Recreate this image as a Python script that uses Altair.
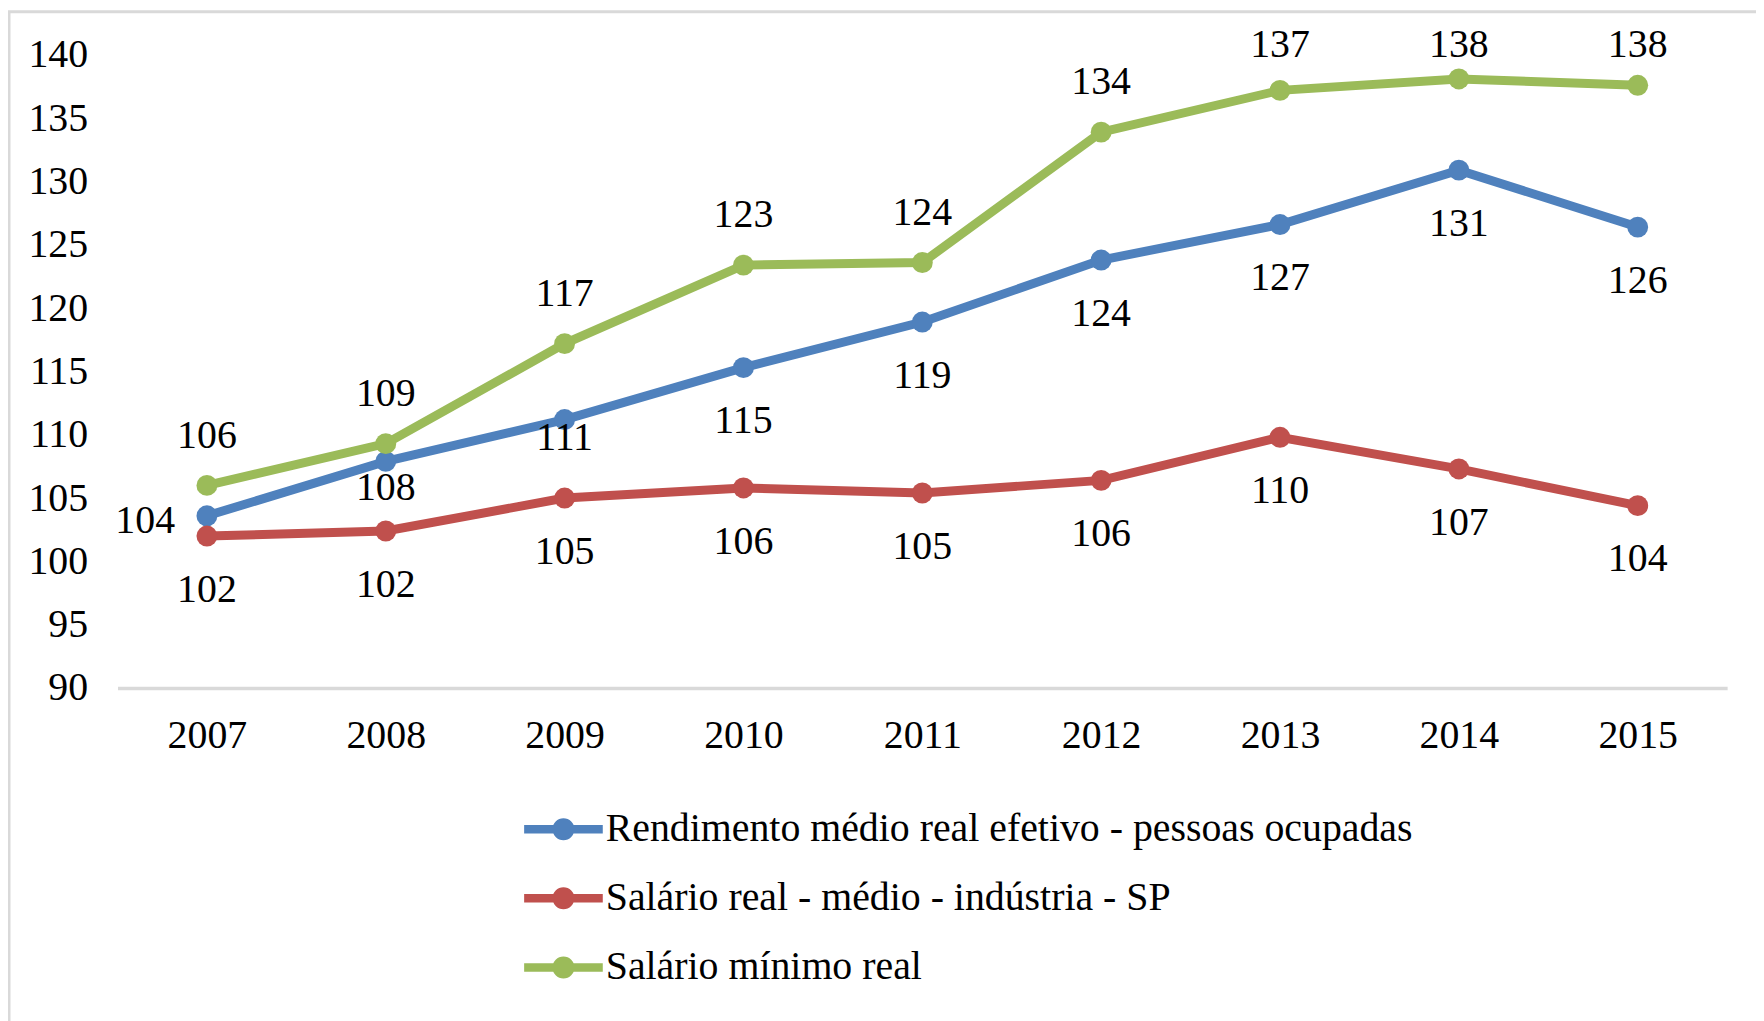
import altair as alt
import pandas as pd

years = [2007, 2008, 2009, 2010, 2011, 2012, 2013, 2014, 2015]
rendimento = [103.6, 107.9, 111.2, 115.3, 118.9, 123.8, 126.6, 130.9, 126.4]
salario_industria = [102.0, 102.4, 105.0, 105.8, 105.4, 106.4, 109.8, 107.3, 104.4]
salario_minimo = [106.0, 109.3, 117.2, 123.4, 123.6, 133.9, 137.2, 138.1, 137.6]
series_names = [
    "Rendimento médio real efetivo - pessoas ocupadas",
    "Salário real - médio - indústria  - SP",
    "Salário mínimo real",
]
colors = ["#4F81BD", "#C0504D", "#9BBB59"]
y_ticks = [90, 95, 100, 105, 110, 115, 120, 125, 130, 135, 140]

rows = []
for name, vals in zip(series_names, [rendimento, salario_industria, salario_minimo]):
    for yr, v in zip(years, vals):
        rows.append({"year": str(yr), "value": v, "series": name})
df = pd.DataFrame(rows)

FONT = "Liberation Serif"
FS = 40
PX_PER_UNIT = 636 / 50.0

xs = alt.Scale(type="point", padding=0.5)
ys = alt.Scale(domain=[90, 140], nice=False, zero=False)

x_axis = alt.Axis(title=None, labelAngle=0, ticks=False, grid=False,
                  domainColor="#d9d9d9", domainWidth=3.5,
                  labelFont=FONT, labelFontSize=FS, labelColor="black",
                  labelPadding=28)
y_axis = alt.Axis(title=None, values=y_ticks, ticks=False, grid=False,
                  domain=False, labelFont=FONT, labelFontSize=FS,
                  labelColor="black", labelPadding=30)

X = alt.X("year:O", scale=xs, sort=[str(y) for y in years], axis=x_axis)
Y = alt.Y("value:Q", scale=ys, axis=y_axis)

legend_path = ("M-1.975,0L1.975,0"
               "M0.34,0A0.34,0.34,0,1,1,-0.34,0A0.34,0.34,0,1,1,0.34,0"
               "M0.14,0A0.14,0.14,0,1,1,-0.14,0A0.14,0.14,0,1,1,0.14,0")

C = alt.Color("series:N",
              scale=alt.Scale(domain=series_names, range=colors),
              legend=alt.Legend(title=None, orient="none", direction="vertical",
                                legendX=423.5, legendY=753.3,
                                labelFont=FONT, labelFontSize=FS, labelColor="black",
                                labelLimit=0, labelOffset=18,
                                symbolType=legend_path, symbolSize=1600,
                                symbolStrokeWidth=8.5, symbolOpacity=1,
                                rowPadding=20.5, padding=0))

base = alt.Chart(df)

frame = alt.Chart(pd.DataFrame({"k": [0]})).mark_rect(
    filled=False, stroke="#d9d9d9", strokeWidth=3
).encode(x=alt.value(-109), x2=alt.value(1700), y=alt.value(-43.3), y2=alt.value(1000))

lines = base.mark_line(strokeWidth=9).encode(x=X, y=Y, color=C)
points = base.mark_point(filled=True, size=441, opacity=1).encode(x=X, y=Y, color=C)

txt = dict(font=FONT, fontSize=FS, color="black", baseline="middle")
TEXT = alt.Text("value:Q", format=".0f")

s_blue, s_red, s_green = series_names

green_lab = base.transform_filter(alt.datum.series == s_green).transform_calculate(
    lab=f"min(datum.value + {50 / PX_PER_UNIT}, 140.77)"
).mark_text(**txt).encode(x=X, y=alt.Y("lab:Q", scale=ys, axis=y_axis), text=TEXT)

red_lab = base.transform_filter(alt.datum.series == s_red).mark_text(dy=54, **txt).encode(
    x=X, y=Y, text=TEXT)

blue_lab_main = base.transform_filter(
    (alt.datum.series == s_blue) & (alt.datum.year >= "2010")
).mark_text(dy=54, **txt).encode(x=X, y=Y, text=TEXT)
blue_lab_2009 = base.transform_filter(
    (alt.datum.series == s_blue) & (alt.datum.year == "2009")
).mark_text(dy=19, **txt).encode(x=X, y=Y, text=TEXT)
blue_lab_2008 = base.transform_filter(
    (alt.datum.series == s_blue) & (alt.datum.year == "2008")
).mark_text(dy=27, **txt).encode(x=X, y=Y, text=TEXT)
blue_lab_2007 = base.transform_filter(
    (alt.datum.series == s_blue) & (alt.datum.year == "2007")
).mark_text(dy=5, dx=-32, align="right", **txt).encode(x=X, y=Y, text=TEXT)

chart = alt.layer(
    frame, lines, points, green_lab, red_lab,
    blue_lab_main, blue_lab_2009, blue_lab_2008, blue_lab_2007
).properties(
    width=1617, height=636,
    autosize=alt.AutoSizeParams(type="none"),
    padding={"left": 110, "top": 44.8, "right": 29, "bottom": 332},
    background="white",
).configure_view(stroke=None)

chart.save("out.html", embed_options={"renderer": "svg", "actions": False})
